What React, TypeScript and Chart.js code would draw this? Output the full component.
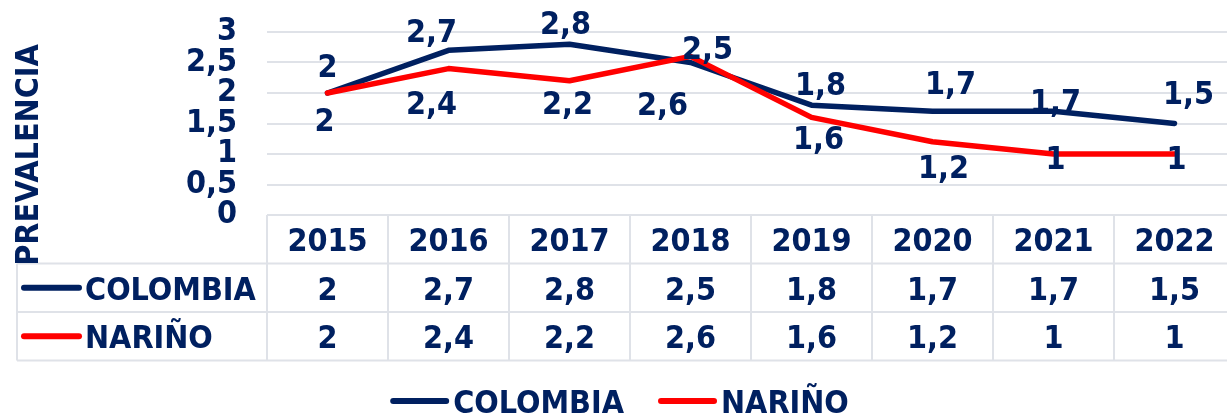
import { useEffect, useRef } from "react";
import { Chart, registerables } from "chart.js";

Chart.register(...registerables);

const years = ["2015", "2016", "2017", "2018", "2019", "2020", "2021", "2022"];
const colombia = [2, 2.7, 2.8, 2.5, 1.8, 1.7, 1.7, 1.5];
const narino = [2, 2.4, 2.2, 2.6, 1.6, 1.2, 1, 1];
const yTicks = [0, 0.5, 1, 1.5, 2, 2.5, 3];
const seriesNames = ["COLOMBIA", "NARIÑO"];
const axisTitle = "PREVALENCIA";

const NAVY = "#002060";
const RED = "#FF0000";
const GRID = "#DFE2E8";
const FAMILY = '"DejaVu Sans Condensed", "DejaVu Sans", sans-serif';
const FSIZE = 32;
const FONT = `bold ${FSIZE}px ${FAMILY}`;

const fmt = (v: number) => String(v).replace(".", ",");

// label nudges (relative to each point) [dx, dy]
const labelNudge = [
  [[0, -28], [-17, -20], [-4, -22], [17, -15], [9, -22], [18, -29], [2, -11], [14, -31]],
  [[-3, 26], [-17, 34], [-2, 22], [-28, 47], [7, 20], [11, 25], [2, 3], [2, 3]],
];

const overlay = {
  id: "overlay",
  afterDatasetsDraw(chart: any) {
    const ctx = chart.ctx;
    ctx.save();
    ctx.font = FONT;
    ctx.fillStyle = NAVY;
    ctx.textAlign = "center";
    ctx.textBaseline = "alphabetic";
    chart.data.datasets.forEach((ds: any, di: number) => {
      const meta = chart.getDatasetMeta(di);
      meta.data.forEach((pt: any, i: number) => {
        const [dx, dy] = labelNudge[di][i];
        ctx.fillText(fmt(ds.data[i]), pt.x + dx, pt.y + dy + 11.5);
      });
    });
    ctx.restore();
  },
  afterDraw(chart: any) {
    const ctx = chart.ctx;
    const x = chart.scales.x;
    const area = chart.chartArea;
    const colW = x.getPixelForValue(1) - x.getPixelForValue(0);
    const left0 = x.getPixelForValue(0) - colW / 2;
    const right = x.getPixelForValue(years.length - 1) + colW / 2;
    const top = area.bottom;
    const rowH = 48.5;
    const tableLeft = 17;
    ctx.save();
    // table lines
    ctx.strokeStyle = GRID;
    ctx.lineWidth = 2;
    ctx.beginPath();
    ctx.moveTo(left0, top);
    ctx.lineTo(right, top);
    for (let r = 1; r <= 3; r++) {
      ctx.moveTo(tableLeft, top + r * rowH);
      ctx.lineTo(right, top + r * rowH);
    }
    ctx.moveTo(tableLeft, top + rowH);
    ctx.lineTo(tableLeft, top + 3 * rowH);
    for (let i = 0; i <= years.length; i++) {
      const bx = left0 + i * colW;
      ctx.moveTo(bx, top);
      ctx.lineTo(bx, top + 3 * rowH);
    }
    ctx.stroke();

    // table text
    ctx.font = FONT;
    ctx.fillStyle = NAVY;
    ctx.textAlign = "center";
    ctx.textBaseline = "alphabetic";
    const base = (r: number) => top + r * rowH + rowH / 2 + 12;
    years.forEach((y, i) => ctx.fillText(y, x.getPixelForValue(i), base(0)));
    chart.data.datasets.forEach((ds: any, di: number) => {
      ds.data.forEach((v: number, i: number) => {
        ctx.fillText(fmt(v), x.getPixelForValue(i), base(di + 1));
      });
      // legend key in table
      const cy = top + (di + 1) * rowH + rowH / 2;
      ctx.strokeStyle = ds.borderColor;
      ctx.lineWidth = 6;
      ctx.lineCap = "round";
      ctx.beginPath();
      ctx.moveTo(24, cy);
      ctx.lineTo(79, cy);
      ctx.stroke();
      ctx.textAlign = "left";
      ctx.fillText(ds.label, 85, base(di + 1));
      ctx.textAlign = "center";
    });

    // axis title
    ctx.save();
    ctx.translate(27 + 11, 155);
    ctx.rotate(-Math.PI / 2);
    ctx.textAlign = "center";
    ctx.textBaseline = "alphabetic";
    ctx.fillText(axisTitle, 0, 0);
    ctx.restore();

    // bottom legend
    const keyW = 57, gap = 5, itemGap = 35;
    const widths = chart.data.datasets.map((ds: any) => ctx.measureText(ds.label).width);
    const total = widths.reduce((a: number, w: number) => a + keyW + gap + w, 0) + itemGap * (widths.length - 1);
    let lx = chart.width / 2 - total / 2;
    const ly = 413;
    chart.data.datasets.forEach((ds: any, di: number) => {
      ctx.strokeStyle = ds.borderColor;
      ctx.lineWidth = 6;
      ctx.lineCap = "round";
      ctx.beginPath();
      ctx.moveTo(lx + 2, ly - 12);
      ctx.lineTo(lx + keyW - 2, ly - 12);
      ctx.stroke();
      ctx.textAlign = "left";
      ctx.fillText(ds.label, lx + keyW + gap, ly);
      lx += keyW + gap + widths[di] + itemGap;
    });
    ctx.restore();
  },
};

export default function App() {
  const ref = useRef<HTMLCanvasElement>(null);
  useEffect(() => {
    if (!ref.current) return;
    const chart = new Chart(ref.current, {
      type: "line",
      data: {
        labels: years,
        datasets: [
          {
            label: seriesNames[0],
            data: colombia,
            borderColor: NAVY,
            backgroundColor: NAVY,
            borderWidth: 5.5,
            pointRadius: 0,
            tension: 0,
            borderCapStyle: "round",
            borderJoinStyle: "round",
            order: 1,
          },
          {
            label: seriesNames[1],
            data: narino,
            borderColor: RED,
            backgroundColor: RED,
            borderWidth: 5.5,
            pointRadius: 0,
            tension: 0,
            borderCapStyle: "round",
            borderJoinStyle: "round",
            order: 0,
          },
        ],
      },
      options: {
        animation: false,
        responsive: false,
        maintainAspectRatio: false,
        layout: { padding: { left: 0, top: 32, right: 5, bottom: 198 } },
        plugins: { legend: { display: false }, tooltip: { enabled: false } },
        scales: {
          x: { type: "category", offset: true, display: false },
          y: {
            min: 0,
            max: 3,
            afterBuildTicks: (s: any) => {
              s.ticks = yTicks.map((v) => ({ value: v }));
            },
            afterFit: (s: any) => {
              s.width = 267;
            },
            ticks: {
              autoSkip: false,
              color: NAVY,
              padding: 0,
              font: { family: FAMILY, size: FSIZE, weight: "bold", lineHeight: 1 },
              callback: (v: any) => fmt(Number(v)),
            },
            grid: { color: GRID, lineWidth: 2, drawTicks: true, tickLength: 30, tickColor: "rgba(0,0,0,0)" },
            border: { display: false },
          },
        },
      },
      plugins: [overlay],
    });
    return () => chart.destroy();
  }, []);
  return (
    <div style={{ position: "fixed", left: 0, top: 0, width: 1227, height: 413, overflow: "hidden", background: "#fff" }}>
      <canvas ref={ref} width={1240} height={413} style={{ width: 1240, height: 413, display: "block" }} />
    </div>
  );
}
